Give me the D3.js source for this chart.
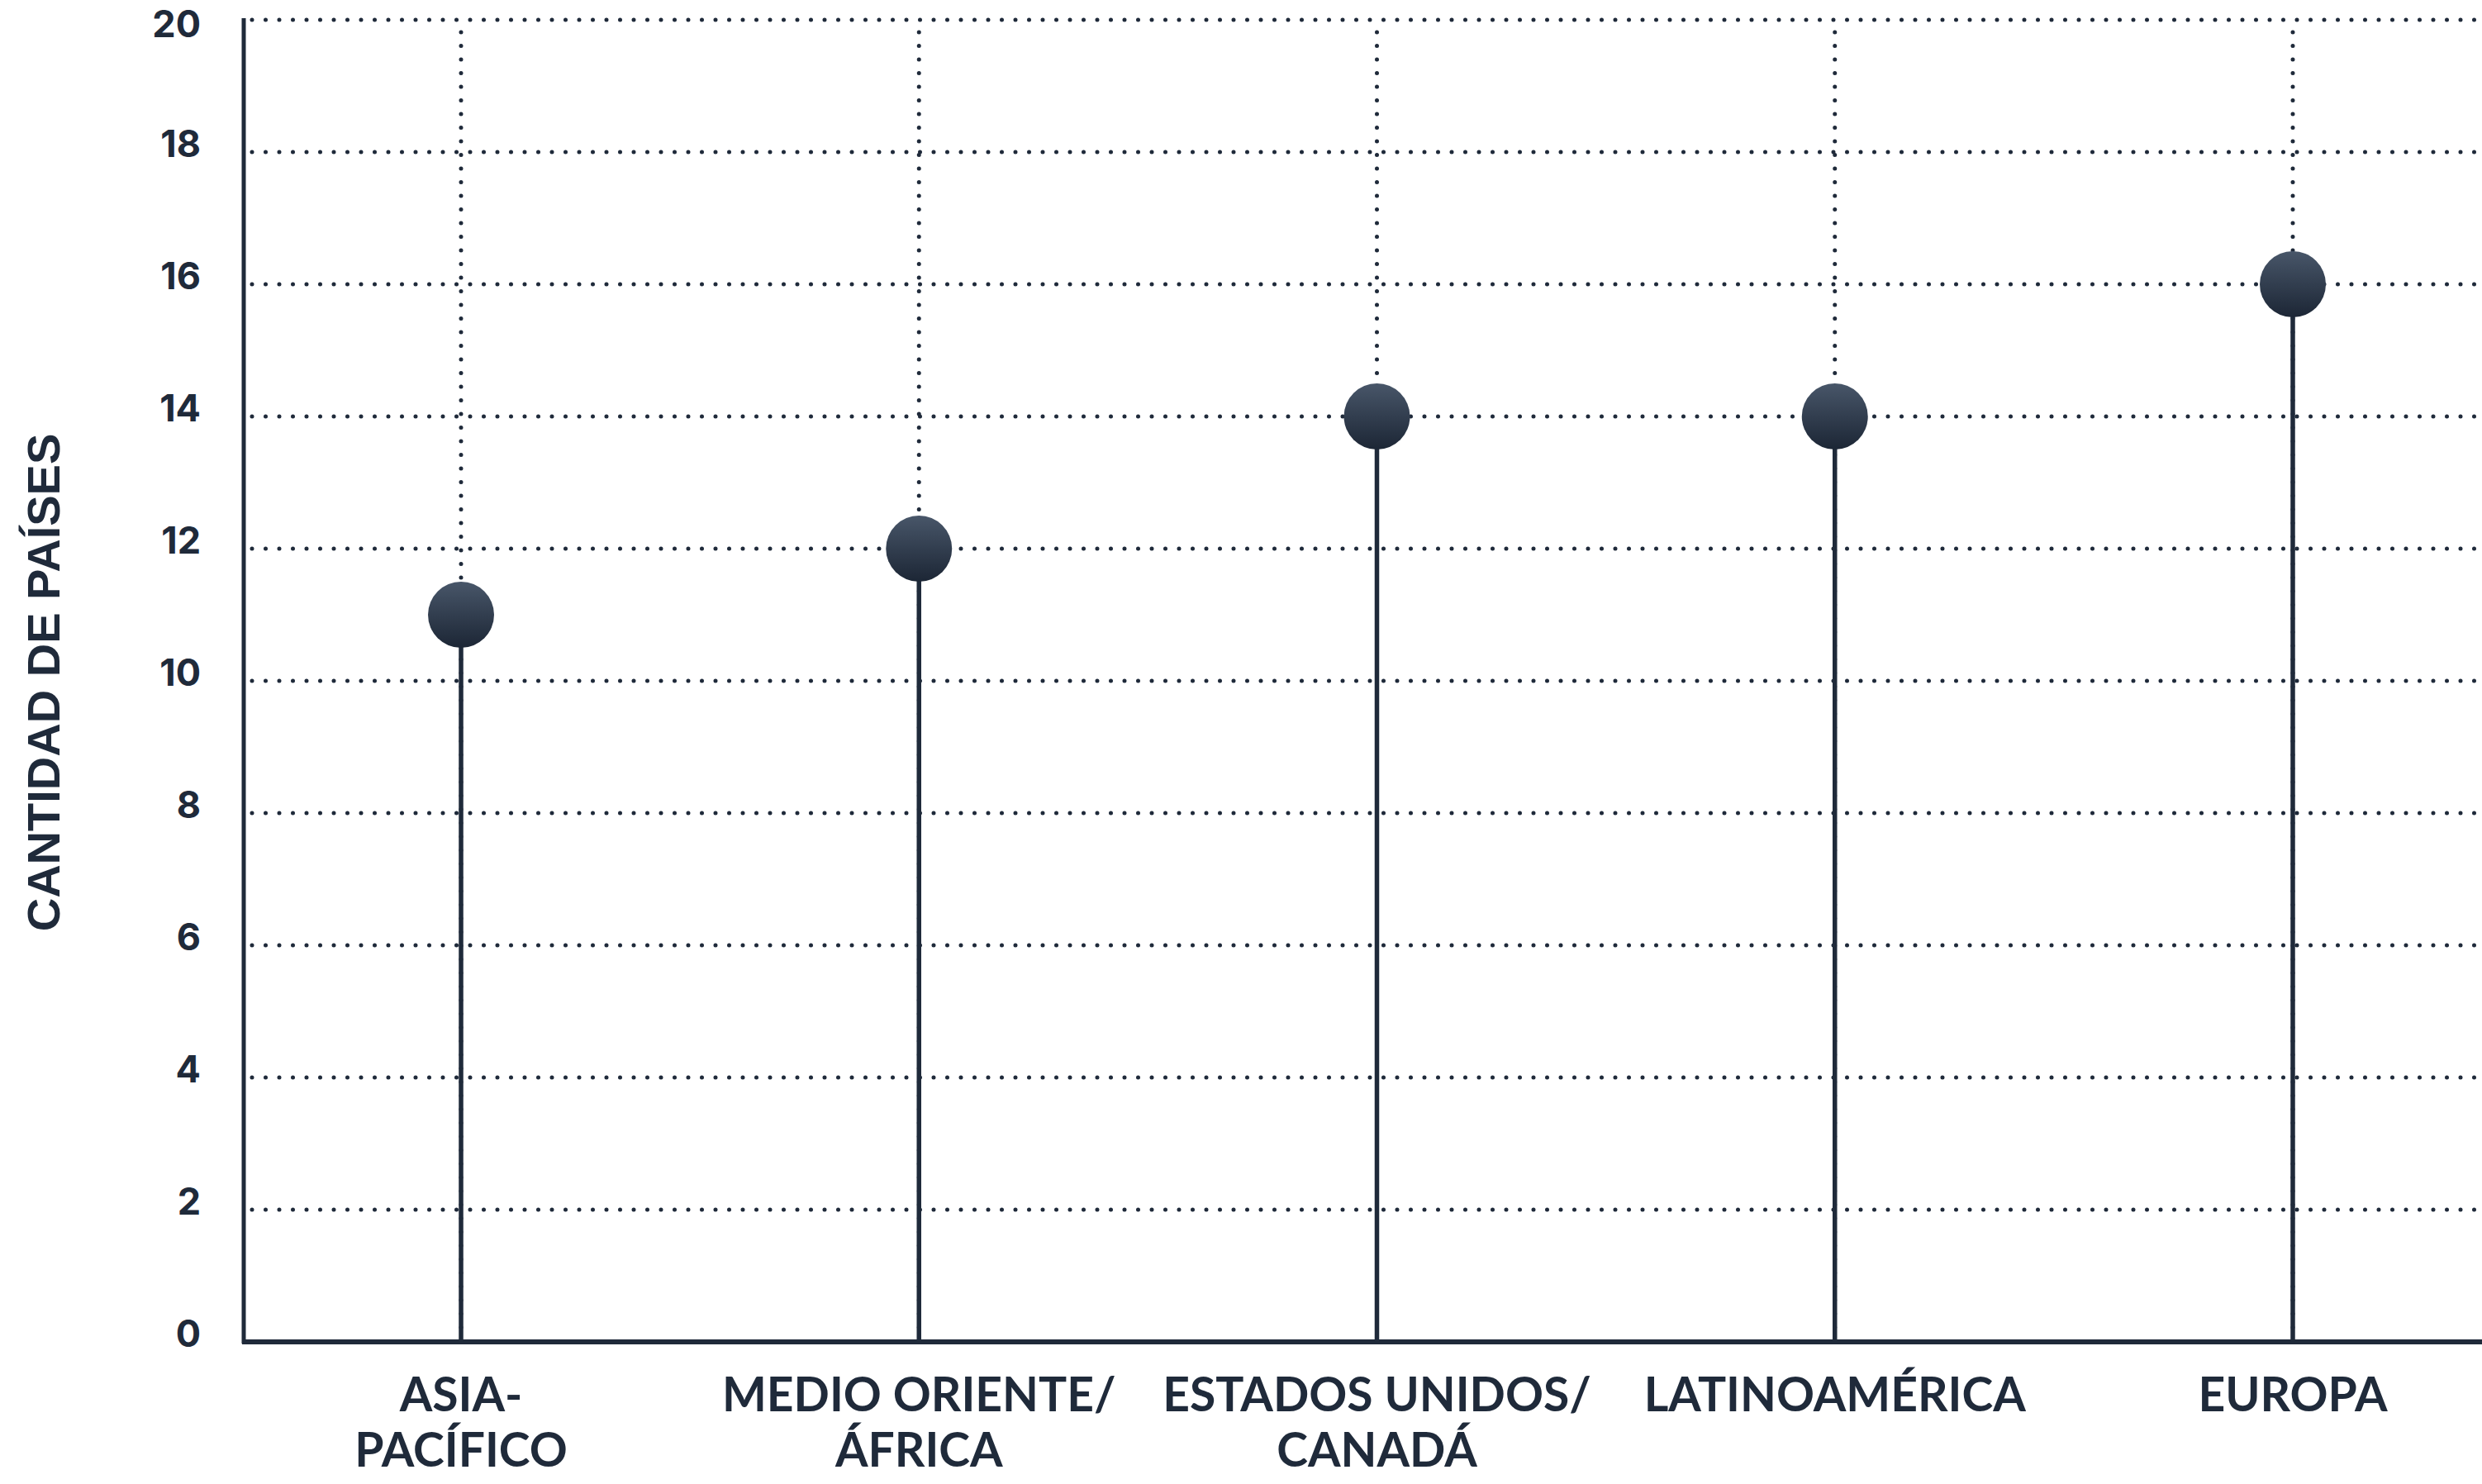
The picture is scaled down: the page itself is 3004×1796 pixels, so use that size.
<!DOCTYPE html>
<html>
<head>
<meta charset="utf-8">
<script src="https://cdn.jsdelivr.net/npm/d3@7.9.0/dist/d3.min.js"></script>
<style>
  html, body { margin: 0; padding: 0; background: #fff; }
  svg { display: block; }
</style>
</head>
<body>
<svg id="chart"></svg>
<script>
// data
const categories = ['ASIA-PACÍFICO', 'MEDIO ORIENTE/ÁFRICA', 'ESTADOS UNIDOS/CANADÁ', 'LATINOAMÉRICA', 'EUROPA'];
const categoryLines = [['ASIA-', 'PACÍFICO'], ['MEDIO ORIENTE/', 'ÁFRICA'], ['ESTADOS UNIDOS/', 'CANADÁ'], ['LATINOAMÉRICA'], ['EUROPA']];
const countries = [11, 12, 14, 14, 16];
const yTicks = [0, 2, 4, 6, 8, 10, 12, 14, 16, 18, 20];
const yTitle = 'CANTIDAD DE PAÍSES';

const width = 3004, height = 1796;
const ink = '#1f2a3a';
const plotLeft = 295, plotRight = width, plotTop = 24, plotBottom = 1624;

const svg = d3.select('#chart').attr('width', width).attr('height', height);

const x = d3.scalePoint().domain(categories).range([558, 2775]);
const y = d3.scaleLinear().domain([0, 20]).range([plotBottom, plotTop]);

// gradient for the dots
const grad = svg.append('defs').append('linearGradient')
  .attr('id', 'dotGrad').attr('x1', 0).attr('y1', 0).attr('x2', 0).attr('y2', 1);
grad.append('stop').attr('offset', '0%').attr('stop-color', '#485669');
grad.append('stop').attr('offset', '100%').attr('stop-color', '#1c2635');

// dotted grid, horizontal
svg.append('g').selectAll('line')
  .data(yTicks.filter(d => d > 0))
  .join('line')
  .attr('x1', plotLeft + 10).attr('x2', plotRight)
  .attr('y1', d => y(d)).attr('y2', d => y(d))
  .attr('stroke', ink).attr('stroke-width', 5)
  .attr('stroke-linecap', 'round')
  .attr('stroke-dasharray', '0 16.5');

// dotted grid, vertical
svg.append('g').selectAll('line')
  .data(categories)
  .join('line')
  .attr('x1', d => x(d)).attr('x2', d => x(d))
  .attr('y1', y(20) + 15).attr('y2', plotBottom)
  .attr('stroke', ink).attr('stroke-width', 5)
  .attr('stroke-linecap', 'round')
  .attr('stroke-dasharray', '0 16.5');

// y axis: labels only, line drawn separately
const yAxis = svg.append('g')
  .attr('transform', `translate(${plotLeft},0)`)
  .call(d3.axisLeft(y).tickValues(yTicks).tickSize(0).tickPadding(52));
yAxis.select('.domain').remove();
// top label sits a bit below its line so it is not cut at the edge
yAxis.selectAll('text')
  .attr('dy', d => d === 20 ? '0.18em' : '-0.14em')
  .attr('dominant-baseline', 'middle')
  .attr('fill', ink)
  .style('font-family', 'Inter, "Noto Sans", sans-serif')
  .style('font-weight', 700)
  .style('font-size', '45px');

// axis lines
svg.append('line')
  .attr('x1', plotLeft).attr('x2', plotLeft)
  .attr('y1', plotTop - 2).attr('y2', plotBottom + 2)
  .attr('stroke', ink).attr('stroke-width', 5);
svg.append('line')
  .attr('x1', plotLeft - 2).attr('x2', plotRight)
  .attr('y1', plotBottom).attr('y2', plotBottom)
  .attr('stroke', ink).attr('stroke-width', 6);

// stems
svg.append('g').selectAll('line')
  .data(countries)
  .join('line')
  .attr('x1', (d, i) => x(categories[i])).attr('x2', (d, i) => x(categories[i]))
  .attr('y1', plotBottom).attr('y2', d => y(d))
  .attr('stroke', ink).attr('stroke-width', 5.5);

// dots
svg.append('g').selectAll('circle')
  .data(countries)
  .join('circle')
  .attr('cx', (d, i) => x(categories[i]))
  .attr('cy', d => y(d))
  .attr('r', 40)
  .attr('fill', 'url(#dotGrad)');

// category labels
const xLabels = svg.append('g').selectAll('text')
  .data(categories)
  .join('text')
  .attr('x', d => x(d))
  .attr('y', 1708)
  .attr('text-anchor', 'middle')
  .attr('fill', ink)
  .style('font-family', 'Lato, "Open Sans", sans-serif')
  .style('font-weight', 700)
  .style('font-size', '57px');
xLabels.each(function (d, i) {
  d3.select(this).selectAll('tspan')
    .data(categoryLines[i])
    .join('tspan')
    .attr('x', x(d))
    .attr('dy', (t, j) => j === 0 ? 0 : 67)
    .text(t => t);
});

// y title
svg.append('text')
  .attr('transform', `translate(72,${(plotTop + plotBottom) / 2 + 2}) rotate(-90)`)
  .attr('text-anchor', 'middle')
  .attr('fill', ink)
  .style('font-family', '"Liberation Sans", Arial, sans-serif')
  .style('font-weight', 700)
  .style('font-size', '56px')
  .text(yTitle);
</script>
</body>
</html>
